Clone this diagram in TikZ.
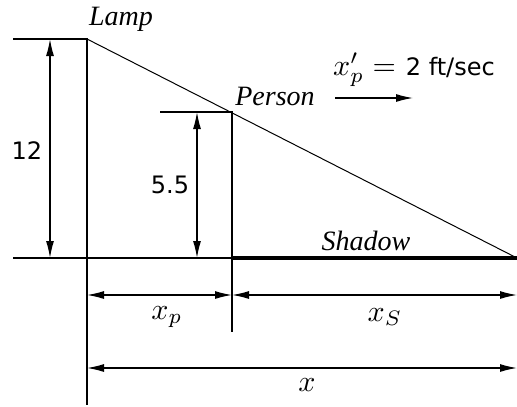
\documentclass[tikz,border=0pt]{standalone}
\usepackage{graphicx}
\usepackage{fontspec}
\usetikzlibrary{arrows.meta}
\newfontfamily\numfont{DejaVu Sans}
\newfontfamily\lblfont{Liberation Serif}
\newcommand{\bigmath}[1]{\scalebox{3}{$#1$}}

\begin{document}
\begin{tikzpicture}[x=1pt,y=-1pt,line width=1.3pt,
    dim/.style={{Latex[length=17pt,width=8pt]}-{Latex[length=17pt,width=8pt]}},
    lbl/.style={font=\fontsize{28}{30}\selectfont\lblfont\itshape},
    num/.style={font=\fontsize{24}{28}\selectfont\numfont}]
  \useasboundingbox (0,0) rectangle (517,407);

  % main points
  \coordinate (lamptop) at (87,39);
  \coordinate (lampfoot) at (87,405);
  \coordinate (persontop) at (232,112);
  \coordinate (personbase) at (232,258);
  \coordinate (personfoot) at (232,332);
  \coordinate (shadowend) at (517,258);
  \coordinate (groundstart) at (13,258);

  % lamp, person, ground
  \draw (13,39) -- (lamptop) -- (lampfoot);
  \draw (160,112) -- (persontop) -- (personfoot);
  \draw (groundstart) -- (shadowend);
  \draw[line width=4.5pt] (personbase) -- (shadowend);
  \draw[line width=1pt] (lamptop) -- (shadowend);

  % heights
  \coordinate (htop) at (50,39);
  \coordinate (hbot) at (50,258);
  \draw[dim] (htop) -- (hbot);
  \coordinate (ptop) at (197,112);
  \coordinate (pbot) at (197,258);
  \draw[dim] (ptop) -- (pbot);
  \node[num] (h12) at (27,151) {12};
  \node[num] (h55) at (170,185) {5.5};

  % lengths
  \coordinate (xpleft) at (87,295);
  \coordinate (xpright) at (232,295);
  \coordinate (xsright) at (517,295);
  \coordinate (xleft) at (87,368);
  \coordinate (xright) at (517,368);
  \draw[dim] (xpleft) -- (xpright);
  \draw[dim] (xpright) -- (xsright);
  \draw[dim] (xleft) -- (xright);
  \node (xp) at (167,317) {\bigmath{x_p}};
  \node (xs) at (385,317) {\bigmath{x_S}};
  \node (xtot) at (307,385) {\bigmath{x}};

  % labels
  \node[lbl] (lamp) at (121,19) {Lamp};
  \node[lbl] (person) at (275,96) {Person};
  \node[lbl] (shadow) at (366,241) {Shadow};
  \node (speed) at (414,70)
    {\bigmath{x_p' ={}}\,{\fontsize{24}{28}\selectfont\numfont 2 ft/sec}};
  \coordinate (speedstart) at (335,98);
  \coordinate (speedend) at (413,98);
  \draw[-{Latex[length=17pt,width=8pt]}] (speedstart) -- (speedend);
\end{tikzpicture}
\end{document}
